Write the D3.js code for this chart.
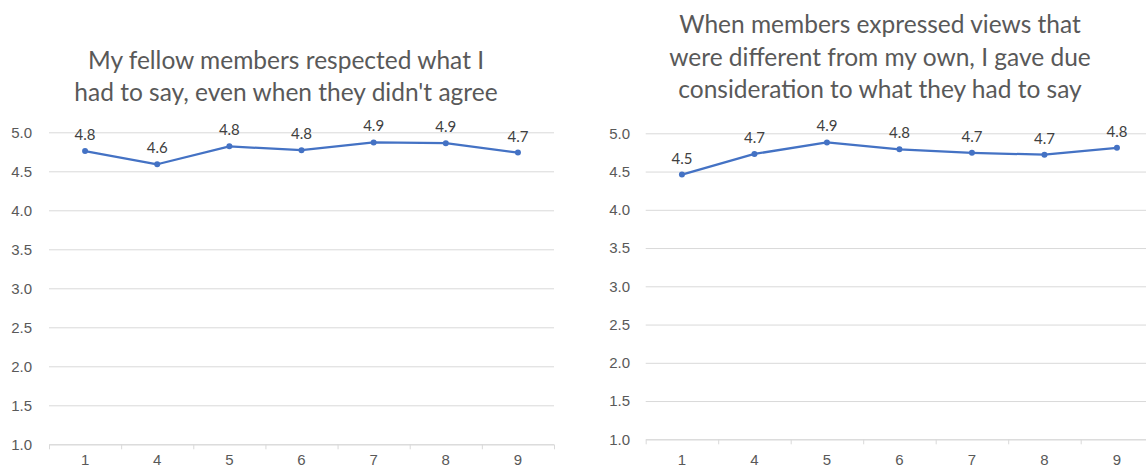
<!DOCTYPE html>
<html>
<head>
<meta charset="utf-8">
<script src="https://cdn.jsdelivr.net/npm/d3@7"></script>
<style>
  html, body { margin: 0; padding: 0; background: #fff; overflow: hidden; }
  svg { display: block; font-family: Lato, "Open Sans", sans-serif; }
</style>
</head>
<body>
<div id="chart"></div>
<script>
// categories on the x axis (same for both panels)
let categories = ['1', '4', '5', '6', '7', '8', '9'];
let yTicks = [1.0, 1.5, 2.0, 2.5, 3.0, 3.5, 4.0, 4.5, 5.0];

let leftTitle = ['My fellow members respected what I', "had to say, even when they didn't agree"];
let leftValues = [4.76, 4.59, 4.82, 4.77, 4.87, 4.86, 4.74];

let rightTitle = ['When members expressed views that', 'were different from my own, I gave due', 'consideration to what they had to say'];
let rightValues = [4.46, 4.73, 4.88, 4.79, 4.745, 4.72, 4.81];

let w = 1146;
let h = 470;
let fmt = d3.format('.1f');

let svg = d3.select('#chart')
            .append('svg')
            .attr('width', w)
            .attr('height', h);

const drawChart = (opt) => {
  let g = svg.append('g');

  let xScale = d3.scaleBand()
                 .domain(categories)
                 .range([opt.left, opt.right])
                 .padding(0);
  let yScale = d3.scaleLinear()
                 .domain([1, 5])
                 .range([opt.bottom, opt.top]);

  // gridlines + y labels
  let yAxis = d3.axisLeft(yScale)
                .tickValues(yTicks)
                .tickFormat(d3.format('.1f'))
                .tickSize(-(opt.right - opt.left))
                .tickPadding(opt.left - opt.labelRight);
  let ya = g.append('g')
            .attr('transform', 'translate(' + opt.left + ',0)')
            .call(yAxis);
  ya.select('.domain').remove();
  ya.selectAll('line').attr('stroke', '#d9d9d9').attr('stroke-width', 1);
  ya.selectAll('text')
    .attr('fill', '#595959')
    .style('font-size', '15px');

  // x axis labels, end ticks from the domain path
  let xAxis = d3.axisBottom(xScale)
                .tickSizeInner(0)
                .tickSizeOuter(5)
                .tickPadding(opt.xPad);
  let xa = g.append('g')
            .attr('transform', 'translate(0,' + opt.bottom + ')')
            .call(xAxis);
  xa.select('.domain').attr('stroke', '#d9d9d9');
  xa.selectAll('.tick line').remove();
  xa.selectAll('text')
    .attr('fill', '#595959')
    .style('font-size', '15px');

  // inner category boundary ticks
  g.selectAll('.bound')
   .data(categories.slice(1))
   .enter()
   .append('line')
   .attr('class', 'bound')
   .attr('x1', (d) => xScale(d) + 0.5)
   .attr('x2', (d) => xScale(d) + 0.5)
   .attr('y1', opt.bottom)
   .attr('y2', opt.bottom + 5)
   .attr('stroke', '#d9d9d9');

  let cx = (d, i) => xScale(categories[i]) + xScale.bandwidth() / 2;

  let line = d3.line()
               .x(cx)
               .y((d) => yScale(d));
  g.append('path')
   .datum(opt.values)
   .attr('d', line)
   .attr('fill', 'none')
   .attr('stroke', '#4472c4')
   .attr('stroke-width', 2.25)
   .attr('stroke-linejoin', 'round');

  g.selectAll('.dot')
   .data(opt.values)
   .enter()
   .append('circle')
   .attr('class', 'dot')
   .attr('cx', cx)
   .attr('cy', (d) => yScale(d))
   .attr('r', 3)
   .attr('fill', '#4472c4');

  g.selectAll('.lbl')
   .data(opt.values)
   .enter()
   .append('text')
   .attr('class', 'lbl')
   .attr('x', cx)
   .attr('y', (d) => yScale(d) - 11)
   .attr('text-anchor', 'middle')
   .attr('fill', '#404040')
   .style('font-size', '15px')
   .text((d) => fmt(d));

  // title
  g.selectAll('.title')
   .data(opt.title)
   .enter()
   .append('text')
   .attr('class', 'title')
   .attr('x', opt.titleX)
   .attr('y', (d, i) => opt.titleY + i * 32.5)
   .attr('text-anchor', 'middle')
   .attr('fill', '#595959')
   .style('font-size', '24.5px')
   .text((d) => d);
}

drawChart({
  left: 49, right: 554, top: 132.3, bottom: 444.3, labelRight: 32,
  xPad: 10.5, values: leftValues, title: leftTitle, titleX: 286, titleY: 68.5
});

drawChart({
  left: 645.7, right: 1153.2, top: 133.3, bottom: 439.3, labelRight: 630,
  xPad: 15, values: rightValues, title: rightTitle, titleX: 880, titleY: 33
});
</script>
</body>
</html>
